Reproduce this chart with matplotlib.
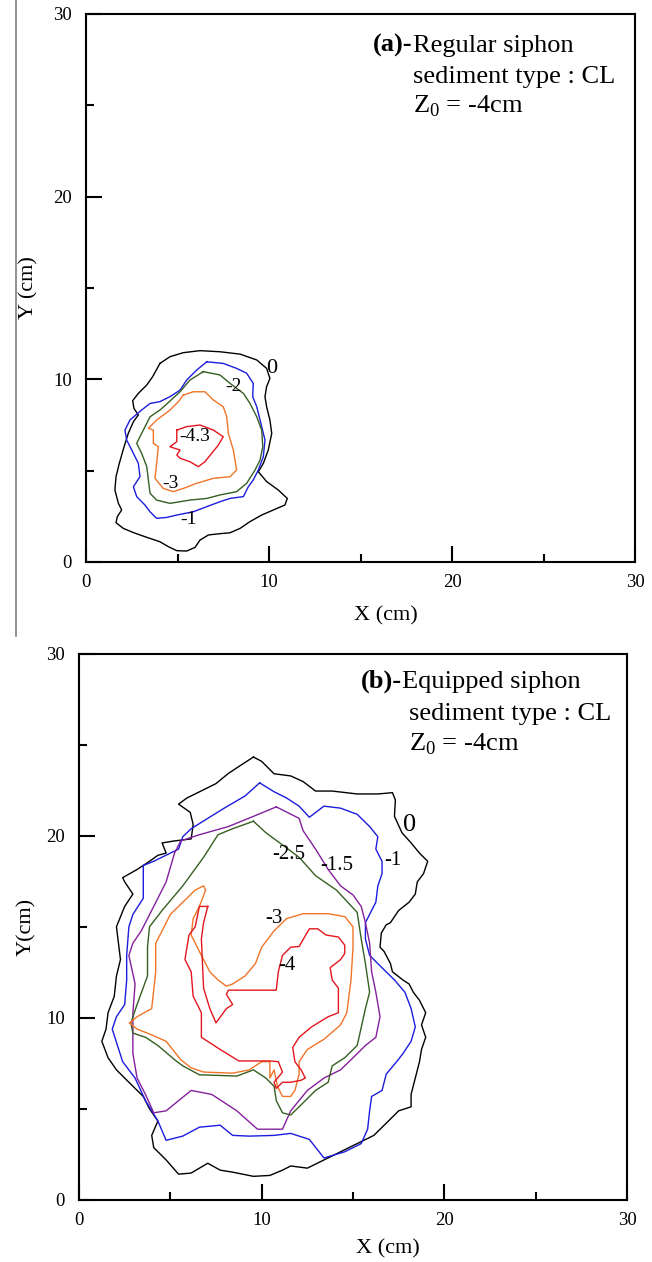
import matplotlib
matplotlib.use('Agg')
import matplotlib.pyplot as plt
from matplotlib.lines import Line2D

plt.rcParams['font.family'] = ['Liberation Serif', 'DejaVu Serif']
plt.rcParams['mathtext.fontset'] = 'custom'
plt.rcParams['mathtext.rm'] = 'Liberation Serif'

# ---- panel (a): regular siphon, scour contours (cm) ----
a0_x = [4.04, 4.59, 5.32, 6.23, 7.32, 8.42, 9.33, 9.87, 10.05, 9.87, 9.78, 9.87, 10.05, 10.15, 9.96, 9.69, 9.42,
        9.87, 10.51, 11.0, 10.87, 10.24, 9.6, 8.96, 8.42, 7.87, 7.32, 6.69, 6.23, 5.96, 5.50, 4.96, 4.50, 4.04,
        3.32, 2.59, 2.04, 1.64, 1.71, 1.95, 1.77, 1.58, 1.64, 1.82, 2.08, 2.31, 2.59, 2.86, 2.62, 2.55, 2.86,
        3.32, 3.64]
a0_y = [10.87, 11.24, 11.46, 11.57, 11.51, 11.38, 11.06, 10.60, 10.05, 9.60, 9.05, 8.50, 7.77, 7.04, 6.13, 5.40,
        4.94, 4.40, 3.94, 3.48, 3.12, 2.85, 2.57, 2.21, 1.84, 1.60, 1.55, 1.48, 1.20, 0.80, 0.60, 0.62, 0.84,
        1.11, 1.35, 1.61, 1.84, 2.15, 2.48, 2.85, 3.21, 3.94, 4.67, 5.40, 6.31, 7.04, 7.68, 8.05, 8.41, 8.83,
        9.23, 9.69, 10.14]
a1_x = [6.60, 7.50, 8.23, 8.78, 9.14, 9.11, 9.33, 9.60, 9.78, 9.69, 9.42, 9.14, 8.87, 8.60, 7.87, 7.32, 6.60, 5.86,
        4.96, 4.41, 3.86, 3.50, 3.22, 2.77, 2.59, 2.95, 2.86, 2.59, 2.22, 2.13, 2.40, 3.04, 3.50, 4.04, 4.59,
        5.14, 5.50, 6.05]
a1_y = [10.96, 10.87, 10.60, 10.33, 9.78, 9.05, 8.50, 7.41, 6.68, 5.77, 5.04, 4.49, 4.12, 3.58, 3.48, 3.30, 3.03,
        2.75, 2.57, 2.44, 2.39, 2.75, 3.12, 3.58, 4.12, 4.67, 5.40, 5.95, 6.68, 7.22, 7.77, 8.32, 8.68, 8.78,
        9.05, 9.41, 9.96, 10.51]
a2_x = [6.41, 7.32, 7.87, 8.60, 8.96, 9.33, 9.60, 9.66, 9.51, 9.24, 8.78, 8.23, 7.32, 6.60, 5.68, 4.59, 3.86, 3.50,
        3.41, 3.32, 3.04, 2.77, 2.95, 3.50, 4.04, 4.35, 5.14, 5.68]
a2_y = [10.42, 10.24, 9.78, 9.23, 8.68, 7.95, 7.22, 6.31, 5.58, 5.04, 4.31, 3.85, 3.67, 3.48, 3.39, 3.21, 3.39,
        3.76, 4.49, 5.22, 5.95, 6.50, 6.86, 7.95, 8.32, 8.59, 9.32, 9.96]
a3_x = [5.32, 5.86, 6.50, 6.96, 7.50, 7.69, 7.78, 8.05, 8.23, 7.87, 6.96, 6.05, 5.32, 4.77, 4.22, 3.77, 3.86, 3.95,
        3.68, 3.68, 3.41, 3.86, 4.59, 5.05]
a3_y = [9.14, 9.32, 9.32, 8.87, 8.50, 7.95, 7.04, 6.13, 5.04, 4.67, 4.58, 4.31, 4.03, 3.85, 4.03, 4.58, 5.40, 6.31,
        6.50, 7.22, 7.32, 7.77, 8.32, 8.78]
a4_x = [4.96, 5.50, 6.23, 6.96, 7.50, 7.23, 6.87, 6.50, 6.14, 5.68, 5.14, 4.96, 5.14, 4.86, 4.59, 4.96]
a4_y = [7.22, 7.41, 7.50, 7.22, 6.86, 6.40, 5.95, 5.49, 5.22, 5.49, 5.68, 5.86, 6.13, 6.22, 6.31, 6.59]

a_labels = ['0', '-2', '-4.3', '-3', '-1']
a_lab_x = [10.15, 8.05, 5.96, 4.59, 5.59]
a_lab_y = [10.60, 9.60, 6.86, 4.31, 2.30]

# ---- panel (b): equipped siphon ----
b0_x = [9.55, 10.0, 10.68, 11.59, 12.27, 12.95, 13.86, 15.23, 16.36, 17.16, 17.32, 17.27, 17.68, 18.18, 18.64,
        19.09, 18.86, 18.52, 18.41, 18.07, 17.5, 17.05, 16.82, 16.55, 16.48, 16.7, 17.05, 17.16, 17.73, 18.07,
        18.3, 18.64, 18.98, 18.75, 18.98, 18.75, 18.64, 18.41, 18.18, 18.18, 17.5, 16.82, 16.14, 15.23, 14.32,
        13.41, 12.5, 11.59, 11.14, 10.45, 9.55, 8.41, 7.73, 7.05, 6.59, 6.14, 5.45, 4.77, 4.09, 3.98, 4.32,
        3.86, 3.52, 2.73, 2.05, 1.59, 1.25, 1.48, 1.59, 1.93, 2.05, 2.27, 2.16, 2.05, 2.5, 2.95, 2.5, 2.39, 3.18,
        3.86, 4.32, 4.77, 4.55, 5.23, 6.14, 6.25, 6.09, 5.45, 5.91, 6.82, 7.5, 8.18, 8.86]
b0_y = [24.34, 24.1, 23.42, 23.3, 22.99, 22.47, 22.47, 22.31, 22.31, 22.38, 21.98, 21.08, 20.18, 19.62, 19.06,
        18.61, 17.93, 17.48, 16.81, 16.36, 15.91, 15.24, 15.12, 14.67, 13.89, 13.66, 12.99, 12.54, 12.09, 11.87,
        11.42, 10.97, 10.29, 9.62, 8.94, 8.27, 7.60, 6.70, 5.80, 5.12, 4.90, 4.22, 3.55, 3.10, 2.65, 2.20, 1.75,
        1.87, 1.64, 1.35, 1.30, 1.53, 1.64, 2.02, 1.75, 1.48, 1.42, 2.20, 2.88, 3.55, 4.34, 5.01, 5.69, 6.47,
        7.15, 7.82, 8.72, 9.39, 10.29, 11.19, 12.31, 13.21, 14.11, 15.01, 16.13, 16.81, 17.48, 17.71, 18.16,
        18.61, 18.94, 19.06, 19.62, 19.73, 19.84, 20.63, 21.3, 21.75, 22.09, 22.54, 22.88, 23.44, 23.89]
b1_x = [9.89, 10.68, 11.36, 12.05, 12.61, 13.41, 14.32, 15.23, 15.91, 16.36, 16.25, 16.59, 16.59, 16.36, 16.25,
        15.68, 15.68, 15.91, 16.59, 17.27, 17.84, 18.18, 18.41, 18.18, 17.73, 17.39, 16.82, 16.59, 16.02, 15.91,
        15.80, 15.45, 14.55, 13.41, 12.61, 11.59, 10.68, 9.32, 8.41, 7.73, 6.59, 5.68, 4.77, 4.32, 3.64, 3.07,
        2.39, 1.82, 2.05, 2.5, 2.61, 2.61, 2.73, 2.95, 3.52, 3.52, 4.09, 5.45, 5.68, 6.14, 7.05, 7.95, 9.09]
b1_y = [22.92, 22.43, 22.09, 21.64, 21.03, 21.64, 21.53, 21.19, 20.52, 19.96, 19.28, 18.61, 17.93, 17.26, 16.36,
        15.24, 14.34, 13.44, 12.76, 12.09, 11.42, 10.52, 9.51, 8.72, 8.04, 7.60, 6.92, 6.02, 5.69, 4.90, 3.89,
        3.10, 2.65, 2.31, 3.33, 3.66, 3.55, 3.51, 3.55, 4.11, 4.00, 3.51, 3.28, 4.34, 5.46, 6.70, 7.60, 9.39,
        10.07, 10.74, 12.09, 13.44, 15.01, 15.69, 16.58, 18.38, 18.61, 19.28, 19.96, 20.40, 20.97, 21.53, 22.20]
b2_x = [10.8, 12.05, 12.27, 12.95, 13.64, 14.32, 15.0, 15.45, 15.68, 15.91, 16.02, 16.25, 16.48, 16.25, 15.68,
        15.23, 14.32, 13.41, 12.5, 11.59, 11.14, 9.77, 8.64, 7.27, 6.14, 4.77, 4.09, 3.64, 3.18, 2.95, 2.95,
        3.07, 2.73, 2.95, 3.41, 4.09, 4.77, 5.23, 5.57, 6.59, 8.18, 9.55]
b2_y = [21.6, 20.97, 20.29, 19.28, 18.16, 17.26, 16.76, 16.13, 15.24, 14.11, 12.54, 11.42, 10.07, 8.94, 8.49,
        8.04, 7.15, 6.70, 6.02, 4.90, 3.89, 3.89, 4.90, 5.80, 6.02, 4.90, 4.79, 5.80, 6.70, 8.04, 10.29, 11.87,
        13.44, 14.11, 14.79, 16.13, 17.48, 19.06, 19.73, 20.07, 20.52, 21.08]
b3_x = [9.55, 10.23, 11.14, 12.05, 12.95, 14.09, 15.23, 15.45, 15.68, 15.91, 15.68, 15.23, 14.55, 13.86, 13.64,
        12.95, 12.05, 11.59, 11.14, 10.8, 10.68, 10.23, 9.55, 8.64, 6.59, 5.68, 5.23, 4.32, 3.64, 2.95, 2.84,
        3.18, 3.75, 3.75, 3.86, 4.55, 5.68, 6.82, 7.61, 8.41]
b3_y = [20.81, 20.18, 19.51, 18.83, 17.82, 17.03, 15.80, 14.34, 12.99, 11.42, 10.52, 8.49, 7.82, 7.37, 6.47,
        6.02, 5.12, 4.67, 4.79, 5.46, 6.25, 6.70, 7.15, 6.81, 6.88, 7.37, 7.71, 8.49, 8.94, 9.17, 9.73, 10.74,
        12.31, 13.89, 15.01, 15.91, 17.26, 18.83, 20.07, 20.40]
b4_x = [2.77, 3.18, 3.98, 4.20, 4.20, 4.55, 5.0, 5.68, 6.36, 6.82, 6.93, 6.59, 6.25, 6.14, 6.59, 7.16, 7.61, 8.07,
        8.41, 9.09, 9.66, 10.0, 10.68, 11.36, 12.27, 13.64, 14.55, 15.0, 15.0, 14.89, 14.66, 14.32, 13.41, 12.5,
        12.05, 12.05, 11.82, 11.59, 11.14, 10.86, 10.68, 10.45, 10.45, 10.0, 9.32, 8.41, 6.82, 6.14, 5.57,
        4.77, 3.86, 3.18]
b4_y = [9.73, 10.07, 10.52, 12.54, 14.11, 14.79, 15.69, 16.36, 17.03, 17.26, 17.03, 16.13, 15.46, 14.56, 13.66,
        12.54, 12.09, 11.75, 11.87, 12.31, 12.99, 13.89, 14.79, 15.46, 15.73, 15.73, 15.57, 15.01, 13.89, 12.09,
        10.29, 9.62, 8.83, 8.27, 7.60, 6.92, 6.02, 5.69, 5.69, 6.25, 7.15, 6.70, 7.60, 7.60, 7.15, 6.97, 7.03,
        7.26, 7.71, 8.72, 9.12, 9.39]
b5_x = [7.05, 6.82, 6.70, 6.77, 6.82, 7.16, 7.5, 8.07, 8.41, 8.07, 8.18, 9.32, 10.8, 10.91, 11.14, 11.59, 12.05,
        12.61, 13.07, 13.52, 14.2, 14.55, 14.55, 14.32, 13.75, 13.86, 14.2, 14.2, 13.64, 12.73, 12.05, 11.7,
        11.82, 12.16, 12.39, 12.16, 11.59, 11.14, 10.8, 10.68, 11.14, 10.91, 10.45, 8.75, 7.73, 6.70, 6.70,
        6.25, 6.14, 5.80, 6.02, 6.36, 6.59]
b5_y = [16.13, 15.24, 14.34, 12.76, 11.64, 10.52, 9.73, 10.52, 10.74, 11.30, 11.53, 11.53, 11.53, 12.54, 13.44,
        13.89, 13.93, 14.90, 14.90, 14.56, 14.45, 14.00, 13.55, 13.21, 12.76, 12.09, 11.64, 10.29, 10.07, 9.51,
        8.94, 8.38, 7.60, 7.15, 6.70, 6.58, 6.47, 6.47, 6.13, 6.47, 7.03, 7.60, 7.64, 7.64, 8.27, 8.94, 10.29,
        11.19, 12.54, 13.21, 14.56, 15.01, 16.13]

b_labels = ['0', '-2.5', '-1.5', '-1', '-3', '-4']
b_lab_x = [18.07, 11.48, 14.09, 17.16, 10.68, 11.36]
b_lab_y = [20.63, 19.01, 18.38, 18.65, 15.46, 12.88]

c_black = 'black'
c_blue = '#1c1cdc'
c_purple = '#84209c'
c_green = '#365f22'
c_orange = '#f07528'
c_red = '#e3161e'

fig = plt.figure(figsize=(6.52, 12.62), dpi=100)
ax_a = fig.add_axes([86 / 652, 1 - 562 / 1262, 549 / 652, 548 / 1262])
ax_b = fig.add_axes([79 / 652, 1 - 1200 / 1262, 548 / 652, 546 / 1262])


def closed(xs, ys):
    return xs + xs[:1], ys + ys[:1]


def style(ax):
    ax.set_xlim(0, 30)
    ax.set_ylim(0, 30)
    ax.set_xticks([0, 10, 20, 30])
    ax.set_yticks([0, 10, 20, 30])
    ax.set_xticks([5, 15, 25], minor=True)
    ax.set_yticks([5, 15, 25], minor=True)
    ax.tick_params(which='both', direction='in', top=False, right=False, width=1.5)
    ax.tick_params(which='major', length=11.5, labelsize=13.5)
    ax.tick_params(which='minor', length=5.8)
    ax.tick_params(axis='x', pad=8.5)
    ax.tick_params(axis='y', pad=10)
    for s in ax.spines.values():
        s.set_linewidth(1.5)


lw = 1.0
for xs, ys, c in [(a0_x, a0_y, c_black), (a1_x, a1_y, c_blue), (a2_x, a2_y, c_green),
                  (a3_x, a3_y, c_orange), (a4_x, a4_y, c_red)]:
    px, py = closed(xs, ys)
    ax_a.plot(px, py, color=c, lw=lw)

for xs, ys, c in [(b0_x, b0_y, c_black), (b1_x, b1_y, c_blue), (b2_x, b2_y, c_purple),
                  (b3_x, b3_y, c_green), (b4_x, b4_y, c_orange), (b5_x, b5_y, c_red)]:
    px, py = closed(xs, ys)
    ax_b.plot(px, py, color=c, lw=lw)

for lab, x, y in zip(a_labels, a_lab_x, a_lab_y):
    ax_a.text(x, y, lab, ha='center', va='center', fontsize=16 if lab == '0' else 14)
for lab, x, y in zip(b_labels, b_lab_x, b_lab_y):
    ax_b.text(x, y, lab, ha='center', va='center', fontsize=19 if lab == '0' else 15)

style(ax_a)
style(ax_b)

# annotation blocks
t = ax_a.text(0.523, 0.931, '(a)-', transform=ax_a.transAxes, fontsize=19, fontweight='bold', va='baseline')
ax_a.annotate('Regular siphon', xy=(1, 0), xycoords=t, fontsize=19, va='bottom')
ax_a.text(0.596, 0.874, 'sediment type : CL', transform=ax_a.transAxes, fontsize=19, va='baseline')
ax_a.text(0.596, 0.821, 'Z$_0$ = -4cm', transform=ax_a.transAxes, fontsize=19, va='baseline')

t = ax_b.text(0.515, 0.938, '(b)-', transform=ax_b.transAxes, fontsize=19, fontweight='bold', va='baseline')
ax_b.annotate('Equipped siphon', xy=(1, 0), xycoords=t, fontsize=19, va='bottom')
ax_b.text(0.602, 0.879, 'sediment type : CL', transform=ax_b.transAxes, fontsize=19, va='baseline')
ax_b.text(0.602, 0.824, 'Z$_0$ = -4cm', transform=ax_b.transAxes, fontsize=19, va='baseline')

ax_a.set_xlabel('X (cm)', fontsize=16)
ax_a.set_ylabel('Y (cm)', fontsize=16)
ax_a.xaxis.set_label_coords(0.546, -0.080)
ax_a.yaxis.set_label_coords(-0.086, 0.5)

ax_b.set_xlabel('X (cm)', fontsize=16)
ax_b.set_ylabel('Y(cm)', fontsize=16)
ax_b.xaxis.set_label_coords(0.564, -0.071)
ax_b.yaxis.set_label_coords(-0.078, 0.5)

# thin grey separator line on the left of panel (a)
fig.add_artist(Line2D([16 / 652, 16 / 652], [1 - 636 / 1262, 1.0], color='#7f7f7f', lw=1.2))

fig.savefig('out.png', dpi=100)
